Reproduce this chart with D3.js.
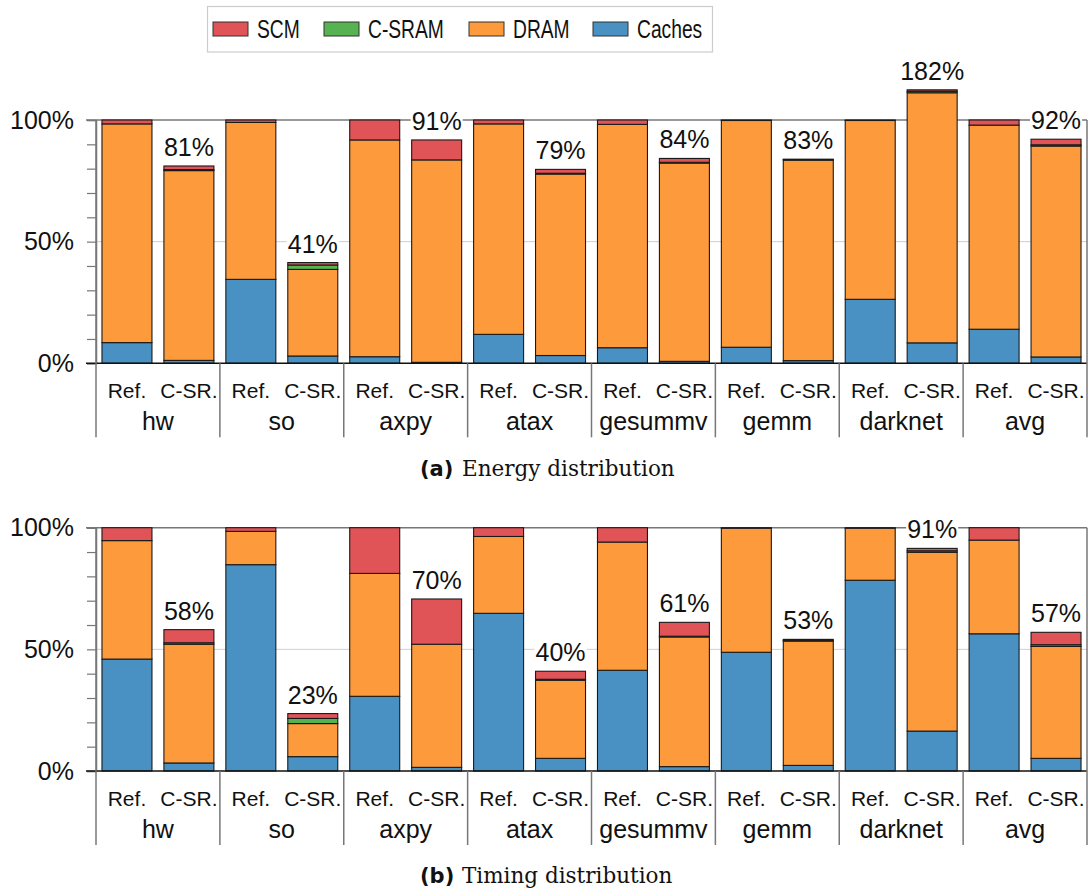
<!DOCTYPE html>
<html>
<head>
<meta charset="utf-8">
<script src="https://cdn.jsdelivr.net/npm/d3@7"></script>
<style>
  html, body { margin: 0; padding: 0; background: #fff; }
  svg { display: block; }
</style>
</head>
<body>
<svg id="chart" width="1089" height="891"></svg>
<script>
// ---------- DATA ----------
const groups = ["hw", "so", "axpy", "atax", "gesummv", "gemm", "darknet", "avg"];
const configs = ["Ref.", "C-SR."];
const seriesNames = ["Caches", "DRAM", "C-SRAM", "SCM"];          // stacking order, bottom to top
const legendOrder = ["SCM", "C-SRAM", "DRAM", "Caches"];
const yTickLabels = ["0%", "50%", "100%"];

// one value per bar: hw Ref, hw C-SR, so Ref, so C-SR, ... (percent)
const energyCaches = [8.5, 1.2, 34.5, 3.0, 2.7, 0.4, 11.9, 3.2, 6.4, 0.8, 6.6, 1.1, 26.3, 8.4, 14.0, 2.6];
const energyDRAM   = [89.9, 78.0, 64.5, 35.6, 89.1, 83.2, 86.5, 74.6, 91.8, 81.5, 93.2, 82.4, 73.5, 102.8, 83.9, 86.7];
const energyCSRAM  = [0, 0.4, 0, 1.8, 0, 0, 0, 0.3, 0, 0.3, 0, 0.2, 0, 0.6, 0, 0.5];
const energySCM    = [1.6, 1.5, 1.0, 1.0, 8.2, 8.2, 1.6, 1.6, 1.8, 1.6, 0.2, 0.2, 0.2, 0.6, 2.1, 2.3];
const energyLabels = ["81%", "41%", "91%", "79%", "84%", "83%", "182%", "92%"];

const timeCaches = [46.0, 3.3, 84.8, 5.9, 30.7, 1.5, 64.8, 5.2, 41.4, 1.8, 48.8, 2.3, 78.4, 16.4, 56.4, 5.2];
const timeDRAM   = [48.7, 48.8, 13.7, 13.6, 50.5, 50.6, 31.6, 32.1, 52.7, 53.3, 51.0, 51.1, 21.4, 73.5, 38.5, 46.0];
const timeCSRAM  = [0, 0.6, 0, 2.1, 0, 0, 0, 0.4, 0, 0.3, 0, 0.3, 0, 0.6, 0, 0.7];
const timeSCM    = [5.3, 5.4, 1.5, 2.0, 18.8, 18.6, 3.6, 3.3, 5.9, 5.7, 0.2, 0.4, 0.2, 1.0, 5.1, 5.1];
const timeLabels = ["58%", "23%", "70%", "40%", "61%", "53%", "91%", "57%"];

const captionA = ["(a)", "Energy distribution"];
const captionB = ["(b)", "Timing distribution"];

// ---------- STYLE ----------
const colors = { "SCM": "#e05356", "C-SRAM": "#57b352", "DRAM": "#fd9a3c", "Caches": "#4a91c3" };
const sansFont = "'Liberation Sans', Arial, Helvetica, sans-serif";

const svg = d3.select("#chart");

const bars = [];
groups.forEach(g => configs.forEach(c => bars.push(g + "|" + c)));

const xLeft = 96, xRight = 1087;
const xBar = d3.scaleBand().domain(bars).range([xLeft, xRight]).paddingInner(0.193).paddingOuter(0.0965);
const xGroup = d3.scaleBand().domain(groups).range([xLeft, xRight]).padding(0);

function panel(y0, y100, caches, dram, csram, scm, labels, caption, captionY) {
  const y = d3.scaleLinear().domain([0, 100]).range([y0, y100]);
  const g = svg.append("g");

  // gridline at 50%
  g.append("line").attr("x1", xLeft).attr("x2", xRight)
    .attr("y1", y(50)).attr("y2", y(50))
    .attr("stroke", "#cfcfcf").attr("stroke-width", 1);

  // y axis ticks (minor every 10%, labels at 0/50/100)
  const axis = d3.axisLeft(y).tickValues(d3.range(0, 101, 10))
    .tickSize(9).tickPadding(13)
    .tickFormat(d => (d % 50 === 0 ? yTickLabels[d / 50] : ""));
  const ax = g.append("g").attr("transform", `translate(${xLeft},0)`).call(axis);
  ax.select(".domain").attr("stroke", "#777").attr("stroke-width", 1.5);
  ax.selectAll(".tick line").attr("stroke", "#777").attr("stroke-width", 1.2);
  ax.selectAll(".tick text").attr("font-family", sansFont).attr("font-size", 25).attr("fill", "#111");

  // top frame line at 100%
  g.append("line").attr("x1", 86).attr("x2", xRight)
    .attr("y1", y(100)).attr("y2", y(100))
    .attr("stroke", "#777").attr("stroke-width", 1.5);

  // stacked bars
  const rows = bars.map((b, i) => ({
    key: b, "Caches": caches[i], "DRAM": dram[i], "C-SRAM": csram[i], "SCM": scm[i]
  }));
  const stacked = d3.stack().keys(seriesNames)(rows);
  stacked.forEach(layer => {
    g.append("g").selectAll("rect").data(layer.filter(d => d[1] - d[0] > 0)).join("rect")
      .attr("x", d => xBar(d.data.key))
      .attr("width", xBar.bandwidth())
      .attr("y", d => y(d[1]))
      .attr("height", d => y(d[0]) - y(d[1]))
      .attr("fill", colors[layer.key])
      .attr("stroke", "#1a1a1a").attr("stroke-width", 1.1);
  });

  // total labels above C-SR bars
  const lab = g.append("g");
  groups.forEach((grp, gi) => {
    const key = grp + "|" + configs[1];
    const i = bars.indexOf(key);
    const top = caches[i] + dram[i] + csram[i] + scm[i];
    const cx = xBar(key) + xBar.bandwidth() / 2;
    const t = lab.append("text").attr("x", cx).attr("y", y(top) - 10)
      .attr("text-anchor", "middle").attr("font-family", sansFont)
      .attr("font-size", 25).attr("fill", "#111").text(labels[gi]);
    const bb = t.node().getBBox();
    lab.insert("rect", "text").attr("x", bb.x - 1).attr("y", bb.y + 3)
      .attr("width", bb.width + 2).attr("height", bb.height - 5).attr("fill", "#fff");
  });

  // zero axis line
  g.append("line").attr("x1", 86).attr("x2", xRight)
    .attr("y1", y(0)).attr("y2", y(0))
    .attr("stroke", "#111").attr("stroke-width", 1.5);

  // group separators
  const seps = groups.map(gr => xGroup(gr)).concat([xRight]);
  g.append("g").selectAll("line").data(seps).join("line")
    .attr("x1", d => d).attr("x2", d => d)
    .attr("y1", (d, i) => (i === 0 || i === seps.length - 1) ? y(100) : y(0))
    .attr("y2", y(0) + 74)
    .attr("stroke", "#777").attr("stroke-width", 1.5);

  // config labels
  g.append("g").selectAll("text").data(bars).join("text")
    .attr("x", d => xBar(d) + xBar.bandwidth() / 2)
    .attr("y", y(0) + 34.5)
    .attr("text-anchor", "middle").attr("font-family", sansFont)
    .attr("font-size", 21).attr("fill", "#111")
    .text(d => d.split("|")[1]);

  // group labels
  g.append("g").selectAll("text").data(groups).join("text")
    .attr("x", d => xGroup(d) + xGroup.bandwidth() / 2)
    .attr("y", y(0) + 67)
    .attr("text-anchor", "middle").attr("font-family", sansFont)
    .attr("font-size", 25).attr("fill", "#111")
    .text(d => d);

  // caption
  const cap = svg.append("text").attr("y", captionY).attr("fill", "#111");
  cap.append("tspan").attr("x", 420).attr("font-family", "'DejaVu Sans', sans-serif")
    .attr("font-weight", "bold").attr("font-size", 21).text(caption[0]);
  cap.append("tspan").attr("x", 462).attr("font-family", "'DejaVu Serif', serif")
    .attr("font-size", 21.5).text(caption[1]);
}

panel(363.3, 120, energyCaches, energyDRAM, energyCSRAM, energySCM, energyLabels, captionA, 476);
panel(771, 527.7, timeCaches, timeDRAM, timeCSRAM, timeSCM, timeLabels, captionB, 883);

// ---------- LEGEND ----------
const leg = svg.append("g");
leg.append("rect").attr("x", 207.5).attr("y", 6.5).attr("width", 505).attr("height", 45.5)
  .attr("fill", "#fff").attr("stroke", "#cccccc").attr("stroke-width", 1.2);
const legX = [213, 324, 469, 593];
legendOrder.forEach((name, i) => {
  leg.append("rect").attr("x", legX[i]).attr("y", 22).attr("width", 35).attr("height", 14)
    .attr("fill", colors[name]).attr("stroke", "#333").attr("stroke-width", 1);
  // condensed lettering (narrow sans) emulated with a horizontal squeeze
  leg.append("text")
    .attr("transform", `translate(${legX[i] + 44},37.5) scale(0.74,1)`)
    .attr("font-family", sansFont)
    .attr("font-size", 26).attr("fill", "#111").text(name);
});
</script>
</body>
</html>
